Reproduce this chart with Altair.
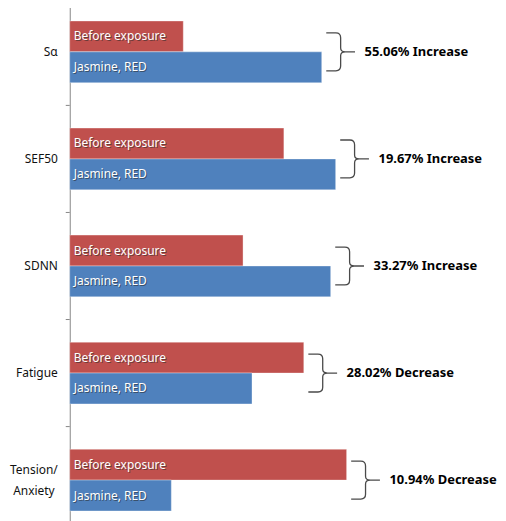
import altair as alt
import pandas as pd

categories = ["Sα", "SEF50", "SDNN", "Fatigue", "Tension/Anxiety"]
cat_lines = [["Sα"], ["SEF50"], ["SDNN"], ["Fatigue"], ["Tension/", "Anxiety"]]
series = ["Before exposure", "Jasmine, RED"]
before = [114, 215, 174, 235, 278]
after = [253, 267, 262, 183, 102]
changes = ["55.06% Increase", "19.67% Increase", "33.27% Increase",
           "28.02% Decrease", "10.94% Decrease"]
colors = ["#C0504D", "#4F81BD"]

rows = []
for c, b, a in zip(categories, before, after):
    rows.append({"cat": c, "series": series[0], "value": b})
    rows.append({"cat": c, "series": series[1], "value": a})
bars_df = pd.DataFrame(rows)
ann_df = pd.DataFrame({
    "cat": categories,
    "top": [max(b, a) for b, a in zip(before, after)],
    "change": changes,
})
single_df = pd.DataFrame({"cat": [c for c, l in zip(categories, cat_lines) if len(l) == 1],
                          "txt": [l[0] for l in cat_lines if len(l) == 1]})
multi = [(c, l) for c, l in zip(categories, cat_lines) if len(l) == 2]
line1_df = pd.DataFrame({"cat": [c for c, l in multi], "txt": [l[0] for c, l in multi]})
line2_df = pd.DataFrame({"cat": [c for c, l in multi], "txt": [l[1] for c, l in multi]})

y_axis = alt.Axis(title=None, labels=False, ticks=False, grid=False,
                  domainColor="#868686", domainWidth=1)
y = alt.Y("cat:N", axis=y_axis,
          scale=alt.Scale(domain=categories, paddingInner=0, paddingOuter=0))
x_scale = alt.Scale(domain=[0, 430])
BAR_H = 31
BAND = 107.5

layers = []
for i, s in enumerate(series):
    off = (i - 0.5) * BAR_H
    base = alt.Chart(bars_df).transform_filter(alt.datum.series == s)
    layers.append(base.mark_bar(height=BAR_H, yOffset=off, color=colors[i],
                                stroke="white", strokeOpacity=0.35, strokeWidth=1).encode(
        x=alt.X("value:Q", scale=x_scale, axis=None), y=y))
    layers.append(base.mark_text(align="left", baseline="middle", dx=5, dy=1, yOffset=off,
                                 font="Noto Sans", fontSize=12, color="#2a2a2a",
                                 opacity=0.55).encode(
        x=alt.value(0), y=y, text="series:N"))
    layers.append(base.mark_text(align="left", baseline="middle", dx=4, yOffset=off,
                                 font="Noto Sans", fontSize=12, color="white").encode(
        x=alt.value(0), y=y, text="series:N"))

# group-boundary ticks on the category axis
ticks = alt.Chart(ann_df).mark_rule(color="#868686", strokeWidth=1, yOffset=-BAND / 2).encode(
    x=alt.value(-4), x2=alt.value(0), y=y)

lab_style = dict(baseline="middle", font="Noto Sans", fontSize=12, color="#111111")
cat_single = alt.Chart(single_df).mark_text(align="right", dx=-12, **lab_style).encode(
    x=alt.value(0), y=y, text="txt:N")
cat_l1 = alt.Chart(line1_df).mark_text(align="center", dx=-36, dy=-10.5, **lab_style).encode(
    x=alt.value(0), y=y, text="txt:N")
cat_l2 = alt.Chart(line2_df).mark_text(align="center", dx=-36, dy=10.5, **lab_style).encode(
    x=alt.value(0), y=y, text="txt:N")

brace_path = ("M -0.76 -1 L -0.25 -1 Q 0 -1 0 -0.75 L 0 -0.2 Q 0 0 0.25 0 L 0.76 0 "
              "M 0.25 0 Q 0 0 0 0.2 L 0 0.75 Q 0 1 -0.25 1 L -0.76 1")
ann = alt.Chart(ann_df)
braces = ann.mark_point(shape=brace_path, size=1444, filled=False, strokeWidth=1.3,
                        color="#4a4a4a", opacity=1, xOffset=19).encode(
    x=alt.X("top:Q", scale=x_scale, axis=None), y=y)
texts = ann.mark_text(align="left", baseline="middle", dx=43, font="Noto Sans",
                      fontSize=13, fontWeight="bold", color="black").encode(
    x=alt.X("top:Q", scale=x_scale, axis=None), y=y, text="change:N")

chart = alt.layer(*layers, ticks, cat_single, cat_l1, cat_l2, braces, texts).properties(
    width=430, height=537.5,
    autosize=alt.AutoSizeParams(type="none"),
    padding={"left": 62, "top": -10.75, "right": 0, "bottom": -13.75},
).configure_view(stroke=None)

chart.save("out.html", embed_options={"renderer": "svg", "actions": False})
